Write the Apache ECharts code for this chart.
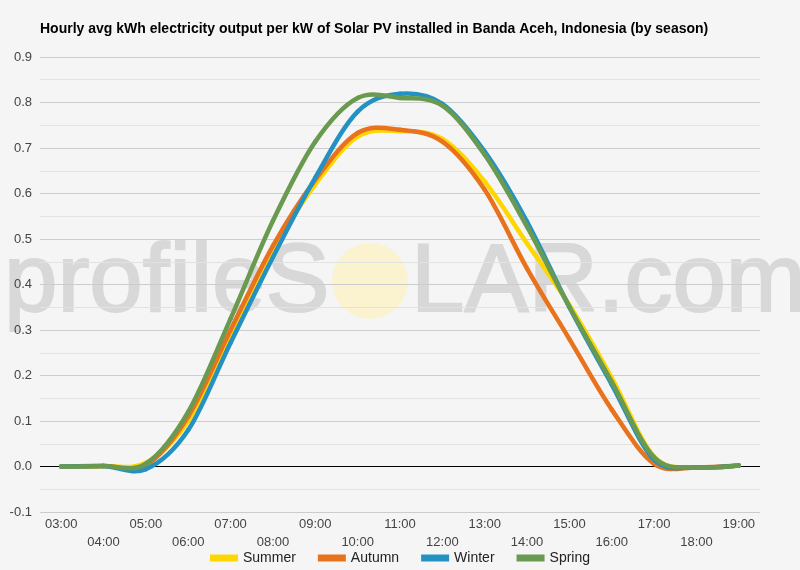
<!DOCTYPE html>
<html>
<head>
<meta charset="utf-8">
<script src="https://cdn.jsdelivr.net/npm/echarts@6/dist/echarts.min.js"></script>
<style>
  html, body { margin: 0; padding: 0; background: #f5f5f5; }
  #chart { width: 800px; height: 570px; }
</style>
</head>
<body>
<div id="chart"></div>
<script>
var hours = ['03:00', '04:00', '05:00', '06:00', '07:00', '08:00', '09:00', '10:00', '11:00',
  '12:00', '13:00', '14:00', '15:00', '16:00', '17:00', '18:00', '19:00'];

var summer = [0, 0.001, 0.008, 0.10, 0.285, 0.475, 0.62, 0.725, 0.737, 0.72, 0.626, 0.49, 0.355, 0.195, 0.022, -0.002, 0.002];
var autumn = [0, 0.001, 0.003, 0.11, 0.30, 0.485, 0.63, 0.733, 0.74, 0.714, 0.608, 0.435, 0.28, 0.125, 0.006, -0.002, 0.002];
var winter = [0, 0.001, -0.006, 0.08, 0.272, 0.46, 0.635, 0.78, 0.819, 0.797, 0.692, 0.538, 0.35, 0.18, 0.015, -0.002, 0.002];
var spring = [0, 0.001, 0.006, 0.12, 0.325, 0.54, 0.714, 0.81, 0.81, 0.793, 0.685, 0.527, 0.351, 0.186, 0.02, -0.002, 0.002];

var seasonNames = ['Summer', 'Autumn', 'Winter', 'Spring'];
var seasonColors = ['#ffd700', '#e8731c', '#2392c2', '#6a9a50'];

var chart = echarts.init(document.getElementById('chart'));

// smooth curve (catmull-rom) drawn segment by segment through the axis scales
function curveRender(arr, color) {
  return function (params, api) {
    var i = params.dataIndex;
    var n = arr.length;
    if (i >= n - 1) return { type: 'group', children: [] };
    var a = Math.max(i - 1, 0), d = Math.min(i + 2, n - 1);
    var p0 = api.coord([a, arr[a]]);
    var p1 = api.coord([i, arr[i]]);
    var p2 = api.coord([i + 1, arr[i + 1]]);
    var p3 = api.coord([d, arr[d]]);
    return {
      type: 'bezierCurve',
      shape: {
        x1: p1[0], y1: p1[1],
        cpx1: p1[0] + (p2[0] - p0[0]) / 6, cpy1: p1[1] + (p2[1] - p0[1]) / 6,
        cpx2: p2[0] - (p3[0] - p1[0]) / 6, cpy2: p2[1] - (p3[1] - p1[1]) / 6,
        x2: p2[0], y2: p2[1]
      },
      style: { stroke: color, lineWidth: 4.5, fill: null, lineCap: 'round' }
    };
  };
}

function curveSeries(i, arr) {
  return {
    name: seasonNames[i],
    type: 'custom',
    renderItem: curveRender(arr, seasonColors[i]),
    itemStyle: { color: seasonColors[i] },
    encode: { x: 0, y: 1 },
    data: arr.map(function (v, k) { return [k, v]; })
  };
}

var series = [
  curveSeries(0, summer),
  curveSeries(1, autumn),
  curveSeries(2, winter),
  curveSeries(3, spring)
];
// black zero line
series[0].markLine = {
  silent: true,
  symbol: 'none',
  label: { show: false },
  lineStyle: { color: '#000', width: 1, type: 'solid' },
  data: [{ yAxis: 0 }],
  z: 1
};

var option = {
  backgroundColor: '#f5f5f5',
  animation: false,
  title: {
    text: 'Hourly avg kWh electricity output per kW of Solar PV installed in Banda Aceh, Indonesia (by season)',
    left: 35,
    top: 17,
    textStyle: { fontFamily: 'Liberation Sans, Arial', fontSize: 14, fontWeight: 'bold', color: '#000' }
  },
  legend: {
    bottom: 0,
    left: 'center',
    icon: 'rect',
    itemWidth: 28,
    itemHeight: 7,
    itemGap: 22,
    textStyle: { fontFamily: 'Liberation Sans, Arial', fontSize: 14, color: '#222' },
    data: seasonNames
  },
  grid: { left: 40, right: 40, top: 57, bottom: 58 },
  graphic: [
    {
      type: 'circle',
      z: -10,
      shape: { cx: 370, cy: 281, r: 38 },
      style: { fill: '#fbf3cf' }
    },
    {
      type: 'text',
      z: -10,
      left: 3,
      top: 236,
      style: { text: 'profileS', font: '500 96px Liberation Sans, Arial', fill: '#d8d8d8', stroke: '#d8d8d8', lineWidth: 2 }
    },
    {
      type: 'text',
      z: -10,
      left: 410,
      top: 236,
      style: { text: 'LAR.com', font: '500 96px Liberation Sans, Arial', fill: '#d8d8d8', stroke: '#d8d8d8', lineWidth: 2 }
    }
  ],
  xAxis: {
    type: 'category',
    data: hours,
    boundaryGap: true,
    axisLine: { show: false },
    axisTick: { show: false },
    axisLabel: {
      interval: 0,
      margin: 3,
      fontFamily: 'Liberation Sans, Arial',
      fontSize: 13,
      color: '#444',
      lineHeight: 18,
      formatter: function (v, i) { return i % 2 ? '\n' + v : v; }
    }
  },
  yAxis: {
    type: 'value',
    min: -0.1,
    max: 0.9,
    interval: 0.1,
    axisLine: { show: false },
    axisTick: { show: false },
    minorTick: { show: false, splitNumber: 2 },
    minorSplitLine: { show: true, lineStyle: { color: '#e2e2e2', width: 1 } },
    splitLine: { lineStyle: { color: '#cccccc', width: 1 } },
    axisLabel: {
      margin: 8,
      fontFamily: 'Liberation Sans, Arial',
      fontSize: 13,
      color: '#444',
      formatter: function (v) { return v.toFixed(1); }
    }
  },
  series: series
};

chart.setOption(option);
</script>
</body>
</html>
